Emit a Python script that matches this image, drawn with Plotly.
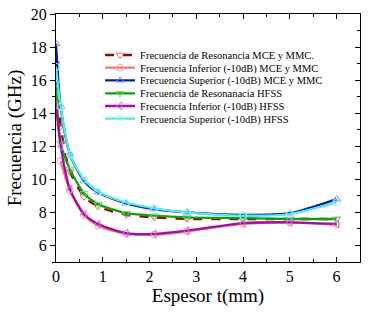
import plotly.graph_objects as go

x_mce = [0, 0.1, 0.3, 0.6, 0.9, 1.5, 2.1, 2.8, 4, 5, 6]
x_inf_mce = [0.1, 0.3, 0.6, 0.9, 1.5, 2.1, 2.8, 4, 5, 6]
x_hfss = [0, 0.1, 0.3, 0.6, 0.9, 1.5, 2.1, 2.8, 4, 5, 6]

res_mce = [17.0, 13.2, 10.45, 8.95, 8.35, 7.85, 7.7, 7.6, 7.6, 7.6, 7.6]
inf_mce = [11.1, 9.3, 7.85, 7.2, 6.7, 6.65, 6.85, 7.3, 7.4, 7.25]
sup_mce = [18.2, 14.4, 11.5, 9.9, 9.2, 8.55, 8.2, 8.0, 7.85, 7.95, 8.8]
res_hfss = [15.8, 12.2, 10.6, 9.15, 8.5, 7.95, 7.8, 7.7, 7.65, 7.6, 7.6]
inf_hfss = [14.5, 12.0, 9.4, 7.9, 7.3, 6.75, 6.7, 6.9, 7.35, 7.4, 7.3]
sup_hfss = [16.8, 14.4, 11.5, 10.0, 9.25, 8.6, 8.25, 8.0, 7.8, 7.9, 8.6]

names = [
    "Frecuencia de Resonancia MCE y MMC.",
    "Frecuencia Inferior (-10dB) MCE y MMC",
    "Frecuencia Superior (-10dB) MCE y MMC",
    "Frecuencia de Resonanacia HFSS",
    "Frecuencia Inferior (-10dB) HFSS",
    "Frecuencia Superior (-10dB) HFSS",
]

series = [
    (x_mce, res_mce, "#8B0A0A", "#E07070", "triangle-down-open", "dash"),
    (x_inf_mce, inf_mce, "#F07878", "#F4A0A0", "circle-open", "solid"),
    (x_mce, sup_mce, "#0A1E9A", "#6E8CF0", "triangle-up-open", "solid"),
    (x_hfss, res_hfss, "#10A010", "#70D070", "triangle-down-open", "solid"),
    (x_hfss, inf_hfss, "#A010A8", "#D070E0", "triangle-left-open", "solid"),
    (x_hfss, sup_hfss, "#50E8E8", "#A0F4F4", "circle-open", "solid"),
]

serif = "Times New Roman, Liberation Serif, serif"

W, H = 382, 314
ML, MR, MT, MB = 56, 22, 14, 52
plot_h = H - MT - MB
legend_centers = [55, 67.7, 80.3, 93.3, 106, 118.7]  # pixels

fig = go.Figure()
legend_layout = {}
for i, (name, (xs, ys, lc, mc, sym, dash)) in enumerate(zip(names, series)):
    key = "legend" if i == 0 else f"legend{i + 1}"
    fig.add_trace(go.Scatter(
        x=xs, y=ys, name=name, mode="lines+markers", legend=key,
        line=dict(color=lc, width=2.3, dash=dash, shape="spline", smoothing=0.7),
        marker=dict(symbol=sym, size=7, color=mc, line=dict(width=1, color=mc)),
    ))
    legend_layout[key] = dict(
        x=0.145, y=1 - (legend_centers[i] - MT) / plot_h,
        xanchor="left", yanchor="middle",
        bgcolor="rgba(0,0,0,0)",
        font=dict(family=serif, size=10.5, color="black"),
        itemwidth=30, tracegroupgap=0,
    )

fig.add_trace(go.Scatter(x=[0], y=[5], yaxis="y2", mode="markers",
                         marker=dict(opacity=0), showlegend=False, hoverinfo="skip"))

fig.update_layout(
    width=W, height=H,
    margin=dict(l=ML, r=MR, t=MT, b=MB, autoexpand=False),
    paper_bgcolor="white", plot_bgcolor="white",
    font=dict(family=serif, color="black"),
    showlegend=True,
    xaxis=dict(range=[0, 6.5], tickvals=[0, 1, 2, 3, 4, 5, 6], automargin=False,
               ticks="inside", ticklen=5, tickwidth=1, tickcolor="black",
               minor=dict(dtick=0.5, tick0=0, ticks="inside", ticklen=3, tickcolor="black"),
               showline=True, linecolor="black", linewidth=1.2, mirror="ticks",
               showgrid=False, zeroline=False, ticklabeloverflow="allow",
               tickfont=dict(family=serif, size=16),
               title=dict(text="Espesor t(mm)", font=dict(family=serif, size=19), standoff=4)),
    yaxis=dict(range=[5, 20], tickvals=[6, 8, 10, 12, 14, 16, 18, 20], automargin=False,
               ticks="outside", ticklen=5, tickwidth=1, tickcolor="black",
               minor=dict(dtick=1, tick0=0, ticks="outside", ticklen=3, tickcolor="black"),
               showline=True, linecolor="black", linewidth=1.2,
               showgrid=False, zeroline=False, ticklabeloverflow="allow",
               tickfont=dict(family=serif, size=16),
               title=dict(text="Frecuencia (GHz)", font=dict(family=serif, size=19), standoff=4)),
    yaxis2=dict(range=[5, 20], overlaying="y", side="right", automargin=False,
                tickvals=[6, 8, 10, 12, 14, 16, 18, 20], showticklabels=False,
                ticks="inside", ticklen=5, tickwidth=1, tickcolor="black",
                minor=dict(dtick=1, tick0=0, ticks="inside", ticklen=3, tickcolor="black"),
                showline=True, linecolor="black", linewidth=1.2,
                showgrid=False, zeroline=False),
    **legend_layout,
)

fig.write_html("out.html", config={"displayModeBar": False},
               post_script="document.body.style.margin='0';")
